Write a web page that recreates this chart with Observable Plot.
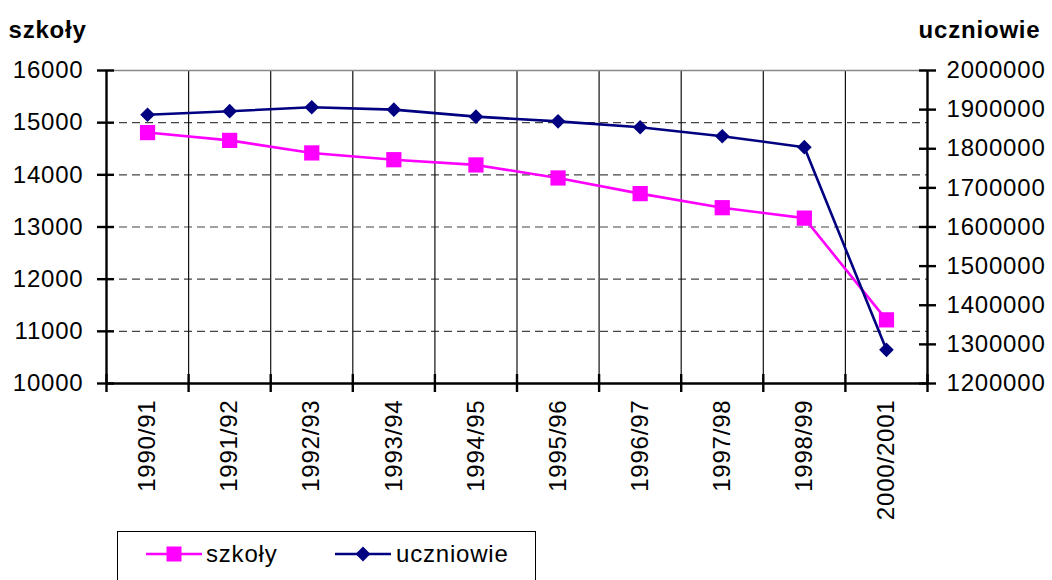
<!DOCTYPE html>
<html>
<head>
<meta charset="utf-8">
<script src="https://cdn.jsdelivr.net/npm/d3@7"></script>
<script src="https://cdn.jsdelivr.net/npm/@observablehq/plot@0.6"></script>
<style>
  html, body { margin: 0; padding: 0; background: #fff; }
  #wrap { position: relative; width: 1052px; height: 580px; overflow: hidden; font-family: "Liberation Sans", Arial, sans-serif; }
  #legend { position: absolute; left: 117px; top: 531px; width: 419px; height: 70px; border: 1.6px solid #000; box-sizing: border-box; }
  .lg { position: absolute; font-size: 24px; letter-spacing: 0.8px; line-height: 24px; }
</style>
</head>
<body>
<div id="wrap"></div>
<script>
// ---- data ----
const categories = ["1990/91","1991/92","1992/93","1993/94","1994/95","1995/96","1996/97","1997/98","1998/99","2000/2001"];
const szkoly = [14810, 14660, 14420, 14290, 14190, 13940, 13640, 13370, 13170, 11220];
const uczniowie = [1887000, 1896000, 1906000, 1900000, 1882000, 1870000, 1855000, 1832000, 1804000, 1286000];
const leftTicks = [10000, 11000, 12000, 13000, 14000, 15000, 16000];
const rightTicks = [1200000, 1300000, 1400000, 1500000, 1600000, 1700000, 1800000, 1900000, 2000000];
const seriesNames = ["szkoły", "uczniowie"];
const colors = ["#FF00FF", "#000080"];

// map right axis domain onto left axis domain
const L0 = 10000, L1 = 16000, R0 = 1200000, R1 = 2000000;
const toLeft = v => L0 + (v - R0) * (L1 - L0) / (R1 - R0);
const toRight = p => Math.round(R0 + (p - L0) * (R1 - R0) / (L1 - L0));

const idx = categories.map((c, i) => i);
const schoolData = idx.map(i => ({i, v: szkoly[i]}));
const pupilData = idx.map(i => ({i, v: toLeft(uczniowie[i])}));
const bounds = d3.range(categories.length + 1).map(k => k - 0.5);
const innerBounds = bounds.slice(1, -1);
const gridVals = leftTicks.slice(1, -1);
const rightPos = rightTicks.map(toLeft);

const chart = Plot.plot({
  width: 1052,
  height: 530,
  marginLeft: 106,
  marginRight: 125,
  marginTop: 70,
  marginBottom: 147,
  style: { fontFamily: '"Liberation Sans", Arial, sans-serif', fontSize: "24px", letterSpacing: "0.8px", color: "#000", background: "#fff" },
  x: { type: "linear", domain: [-0.5, categories.length - 0.5] },
  y: { type: "linear", domain: [L0, L1] },
  marks: [
    Plot.ruleY(gridVals, { stroke: "#444", strokeWidth: 1.2, strokeDasharray: "8,5" }),
    Plot.ruleX(innerBounds, { stroke: "#111", strokeWidth: 1.2 }),
    Plot.ruleY([L1], { stroke: "#888", strokeWidth: 1.6 }),
    // axis lines
    Plot.ruleX([-0.5, categories.length - 0.5], { stroke: "#000", strokeWidth: 2.4 }),
    Plot.ruleY([L0], { stroke: "#000", strokeWidth: 2.4 }),
    // tick marks crossing the axes
    Plot.ruleY(leftTicks, { x1: -0.5, x2: -0.5, insetLeft: -9, insetRight: -8, stroke: "#000", strokeWidth: 2.4 }),
    Plot.ruleY(rightPos, { x1: categories.length - 0.5, x2: categories.length - 0.5, insetLeft: -8, insetRight: -9, stroke: "#000", strokeWidth: 2.4 }),
    Plot.ruleX(bounds, { y1: L0, y2: L0, insetTop: -9, insetBottom: -9, stroke: "#000", strokeWidth: 2.4 }),
    // series
    Plot.line(schoolData, { x: "i", y: "v", stroke: colors[0], strokeWidth: 2.6 }),
    Plot.line(pupilData, { x: "i", y: "v", stroke: colors[1], strokeWidth: 2.6 }),
    Plot.dot(schoolData, { x: "i", y: "v", symbol: "square", r: 8.6, fill: colors[0], stroke: "none" }),
    Plot.dot(pupilData, { x: "i", y: "v", symbol: "diamond2", r: 6.6, fill: colors[1], stroke: "none" }),
    // axes
    Plot.axisY({ ticks: leftTicks, tickSize: 0, tickPadding: 23, tickFormat: d => String(d), label: null }),
    Plot.axisY({ anchor: "right", ticks: rightPos, tickSize: 0, tickPadding: 19, tickFormat: p => String(toRight(p)), label: null }),
    Plot.axisX({ ticks: idx, tickSize: 0, tickPadding: 16, tickRotate: -90, tickFormat: i => categories[i], label: null }),
    // axis titles
    Plot.text([seriesNames[0]], { text: d => d, frameAnchor: "top-left", textAnchor: "start", dx: -98, dy: -50, fontWeight: "bold" }),
    Plot.text([seriesNames[1]], { text: d => d, frameAnchor: "top-right", textAnchor: "end", dx: 113, dy: -50, fontWeight: "bold" })
  ]
});

const wrap = document.getElementById("wrap");
wrap.appendChild(chart);

// legend
const legend = document.createElement("div");
legend.id = "legend";
legend.innerHTML = `
  <svg style="position:absolute;left:28px;top:12px" width="58" height="20">
    <line x1="0" y1="10" x2="56" y2="10" stroke="${colors[0]}" stroke-width="2.6"/>
    <rect x="20.5" y="2.5" width="15" height="15" fill="${colors[0]}"/>
  </svg>
  <div class="lg" style="left:88px;top:10px">${seriesNames[0]}</div>
  <svg style="position:absolute;left:217px;top:12px" width="58" height="20">
    <line x1="0" y1="10" x2="56" y2="10" stroke="${colors[1]}" stroke-width="2.6"/>
    <path d="M28,2.5 L35.5,10 L28,17.5 L20.5,10 Z" fill="${colors[1]}"/>
  </svg>
  <div class="lg" style="left:278px;top:10px">${seriesNames[1]}</div>
`;
wrap.appendChild(legend);
</script>
</body>
</html>
